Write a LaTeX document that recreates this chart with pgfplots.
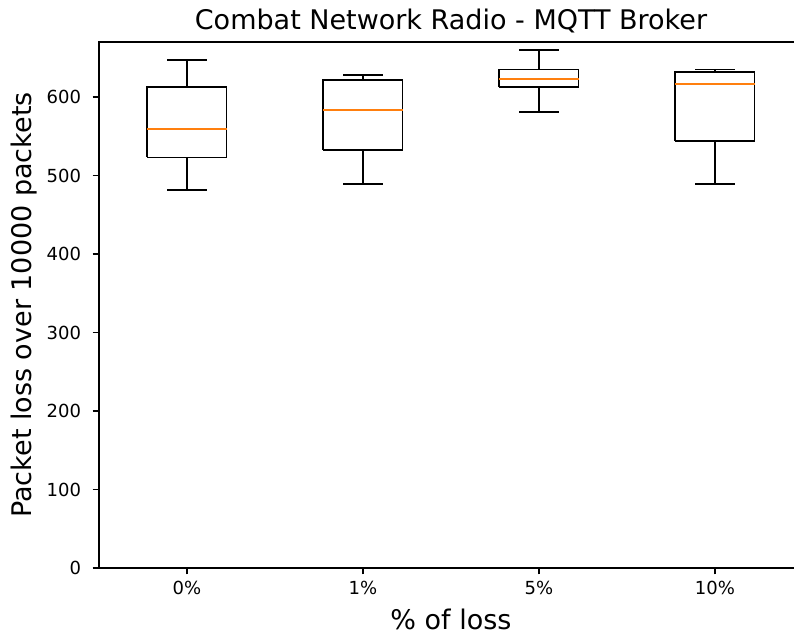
\documentclass[border=0pt]{standalone}
\usepackage{fontspec}
\setmainfont{DejaVu Sans}
\usepackage{pgfplots}
\pgfplotsset{compat=1.18}

\definecolor{mplorange}{HTML}{FF7F0E}

\begin{document}
\begin{tikzpicture}
\begin{axis}[
  width=352pt, height=263pt, scale only axis,
  xmin=0.5, xmax=4.5, ymin=0, ymax=670,
  xtick={1,2,3,4},
  xticklabels={0\%,1\%,5\%,10\%},
  ytick={0,100,200,300,400,500,600},
  tick align=outside,
  xtick pos=bottom, ytick pos=left,
  major tick length=3.15pt,
  major tick style={black, line width=0.72pt},
  axis line style={black, line width=0.72pt},
  /pgf/number format/assume math mode=true,
  ticklabel style={font=\fontsize{9}{10.8}\selectfont},
  xticklabel style={anchor=north, inner sep=0pt, yshift=-3.15pt},
  yticklabel style={anchor=east, inner sep=0pt, xshift=-5.6pt},
  title={Combat Network Radio - MQTT Broker},
  title style={font=\fontsize{13.5}{16}\selectfont, anchor=base, yshift=0pt},
  xlabel={\% of loss},
  xlabel style={font=\fontsize{13.5}{16}\selectfont, yshift=-3.5pt},
  ylabel={Packet loss over 10000 packets},
  ylabel style={font=\fontsize{13.5}{16}\selectfont, yshift=1.5pt},
]
% boxes (Q1 to Q3), width 0.45
\addplot[black, line width=0.9pt, line join=miter] coordinates {(0.775,523) (1.225,523) (1.225,613) (0.775,613) (0.775,523)};
\addplot[black, line width=0.9pt, line join=miter] coordinates {(1.775,532.5) (2.225,532.5) (2.225,622) (1.775,622) (1.775,532.5)};
\addplot[black, line width=0.9pt, line join=miter] coordinates {(2.775,613) (3.225,613) (3.225,635) (2.775,635) (2.775,613)};
\addplot[black, line width=0.9pt, line join=miter] coordinates {(3.775,543.5) (4.225,543.5) (4.225,631.5) (3.775,631.5) (3.775,543.5)};
% whiskers with caps
\addplot[black, line width=0.9pt] coordinates {(0.8875,481) (1.1125,481)};
\addplot[black, line width=0.9pt] coordinates {(1,481) (1,523)};
\addplot[black, line width=0.9pt] coordinates {(1,613) (1,647)};
\addplot[black, line width=0.9pt] coordinates {(0.8875,647) (1.1125,647)};
\addplot[black, line width=0.9pt] coordinates {(1.8875,489) (2.1125,489)};
\addplot[black, line width=0.9pt] coordinates {(2,489) (2,532.5)};
\addplot[black, line width=0.9pt] coordinates {(2,622) (2,628)};
\addplot[black, line width=0.9pt] coordinates {(1.8875,628) (2.1125,628)};
\addplot[black, line width=0.9pt] coordinates {(2.8875,581) (3.1125,581)};
\addplot[black, line width=0.9pt] coordinates {(3,581) (3,613)};
\addplot[black, line width=0.9pt] coordinates {(3,635) (3,659.5)};
\addplot[black, line width=0.9pt] coordinates {(2.8875,659.5) (3.1125,659.5)};
\addplot[black, line width=0.9pt] coordinates {(3.8875,489) (4.1125,489)};
\addplot[black, line width=0.9pt] coordinates {(4,489) (4,543.5)};
\addplot[black, line width=0.9pt] coordinates {(4,631.5) (4,635)};
\addplot[black, line width=0.9pt] coordinates {(3.8875,635) (4.1125,635)};
% medians
\addplot[mplorange, line width=0.9pt] coordinates {(0.775,559) (1.225,559)};
\addplot[mplorange, line width=0.9pt] coordinates {(1.775,583) (2.225,583)};
\addplot[mplorange, line width=0.9pt] coordinates {(2.775,623) (3.225,623)};
\addplot[mplorange, line width=0.9pt] coordinates {(3.775,616.5) (4.225,616.5)};
\end{axis}
% page frame: the right spine runs just past the edge
\pgfresetboundingbox
\useasboundingbox (-49.5pt,-34pt) rectangle (347.5pt,284pt);
\end{tikzpicture}
\end{document}
